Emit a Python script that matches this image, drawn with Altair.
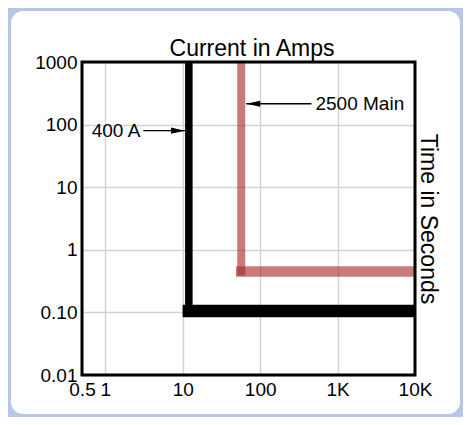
import altair as alt
import pandas as pd

# ---- data ----
x_ticks = [0.5, 1, 10, 100, 1000, 10000]
x_tick_labels = ["0.5", "1", "10", "100", "1K", "10K"]
y_ticks = [0.01, 0.1, 1, 10, 100, 1000]
y_tick_labels = ["0.01", "0.10", "1", "10", "100", "1000"]

series = ["400 A", "2500 Main"]
pickup_amps = [12, 57]          # current of the vertical segment
top_time = [1000, 1000]         # vertical segment starts at top
clear_time = [0.105, 0.45]      # time of the horizontal segment
end_amps = [10000, 10000]       # horizontal segment runs to 10K
colors = ["#000000", "#a52a2a"]
opacities = [1.0, 0.62]
vert_widths = [7.5, 8]
horiz_widths = [12.5, 10.5]

ann_text = ["400 A", "2500 Main"]
ann_time = [80, 215]
ann_tail = [3.1, 460]
ann_tip = [10.7, 66]
ann_shape = ["M0,0L-1,-0.22L-1,0.22Z", "M0,0L1,-0.22L1,0.22Z"]

W, H = 333, 313
PAD = {"left": 74, "top": 54, "right": 48, "bottom": 42}
FONT = "Liberation Sans"


def label_expr(vals, labels):
    e = "''"
    for v, l in reversed(list(zip(vals, labels))):
        e = f"(abs(datum.value - {v}) < {v} * 1e-6) ? '{l}' : ({e})"
    return e


xscale = alt.Scale(type="log", domain=[0.5, 10000], nice=False)
yscale = alt.Scale(type="log", domain=[0.01, 1000], nice=False)

xaxis = alt.Axis(
    values=x_ticks, labelExpr=label_expr(x_ticks, x_tick_labels),
    grid=True, gridColor="#d2d2d2", gridWidth=1.4,
    ticks=False, tickSize=0, domain=False,
    labelFont=FONT, labelFontSize=19, labelColor="black",
    labelPadding=5, labelFlush=False, labelOverlap=False,
    title="Current in Amps", titleFont=FONT, titleFontSize=23,
    titleFontWeight="normal", titleColor="black",
    titleX=W / 2 + 3, titleY=-(H + 7), titleAlign="center",
    titleBaseline="alphabetic", titleAngle=0,
)
yaxis = alt.Axis(
    values=y_ticks, labelExpr=label_expr(y_ticks, y_tick_labels),
    grid=True, gridColor="#d2d2d2", gridWidth=1.4,
    ticks=False, tickSize=0, domain=False,
    labelFont=FONT, labelFontSize=19, labelColor="black",
    labelPadding=5, labelFlush=False, labelOverlap=False,
    labelBaseline="middle",
    title="Time in Seconds", titleFont=FONT, titleFontSize=23,
    titleFontWeight="normal", titleColor="black", titleAngle=90,
    titleX=W + 5, titleY=H / 2, titleAlign="center",
    titleBaseline="alphabetic",
)

vert = pd.DataFrame({"series": series, "x": pickup_amps, "y": top_time,
                     "y2": clear_time, "w": vert_widths, "c": colors,
                     "o": opacities})
horiz = pd.DataFrame({"series": series, "x": pickup_amps, "x2": end_amps,
                      "y": clear_time, "w": horiz_widths, "c": colors,
                      "o": opacities})
ann = pd.DataFrame({"label": ann_text, "y": ann_time, "tail": ann_tail,
                    "tip": ann_tip, "shape": ann_shape})

X = alt.X("x:Q", scale=xscale, axis=xaxis)
Y = alt.Y("y:Q", scale=yscale, axis=yaxis)
style = dict(color=alt.Color("c:N", scale=None),
             opacity=alt.Opacity("o:Q", scale=None),
             strokeWidth=alt.StrokeWidth("w:Q", scale=None))

horiz_layer = alt.Chart(horiz).mark_rule(strokeCap="square", clip=True).encode(
    x=X, x2="x2:Q", y=Y, **style)
vert_layer = alt.Chart(vert).mark_rule(strokeCap="square", clip=True).encode(
    x=X, y=Y, y2="y2:Q", **style)

arrow_lines = alt.Chart(ann).mark_rule(color="black", strokeWidth=1.4).encode(
    x=alt.X("tail:Q", scale=xscale, axis=xaxis), x2="tip:Q",
    y=alt.Y("y:Q", scale=yscale, axis=yaxis))
arrow_heads = alt.Chart(ann).mark_point(filled=True, color="black", opacity=1,
                                        size=784, strokeWidth=0).encode(
    x=alt.X("tip:Q", scale=xscale, axis=xaxis),
    y=alt.Y("y:Q", scale=yscale, axis=yaxis),
    shape=alt.Shape("shape:N", scale=None))
text_left = alt.Chart(ann).transform_filter(
    alt.datum.label == ann_text[0]).mark_text(
    align="right", baseline="middle", dx=-3, font=FONT, fontSize=19,
    color="black").encode(
    x=alt.X("tail:Q", scale=xscale, axis=xaxis),
    y=alt.Y("y:Q", scale=yscale, axis=yaxis), text="label:N")
text_right = alt.Chart(ann).transform_filter(
    alt.datum.label == ann_text[1]).mark_text(
    align="left", baseline="middle", dx=4, font=FONT, fontSize=19,
    color="black").encode(
    x=alt.X("tail:Q", scale=xscale, axis=xaxis),
    y=alt.Y("y:Q", scale=yscale, axis=yaxis), text="label:N")

one = pd.DataFrame({"k": [0]})
frame = alt.Chart(one).mark_rect(filled=False, stroke="black",
                                 strokeWidth=3).encode(
    x=alt.value(0), x2=alt.value(W), y=alt.value(0), y2=alt.value(H))
border = alt.Chart(one).mark_rect(filled=False, stroke="#b7c6e6",
                                  strokeWidth=20, cornerRadius=22).encode(
    x=alt.value(-PAD["left"] - 7), x2=alt.value(W + PAD["right"] + 7),
    y=alt.value(-PAD["top"] - 7), y2=alt.value(H + PAD["bottom"] + 7))

chart = alt.layer(
    horiz_layer, vert_layer, arrow_lines, arrow_heads, text_left, text_right,
    frame, border,
).properties(
    width=W, height=H,
    autosize=alt.AutoSizeParams(type="none"),
    padding=PAD,
    background="white",
).configure_view(stroke=None, fill="white")

chart.save("out.html", embed_options={"renderer": "svg", "actions": False})
